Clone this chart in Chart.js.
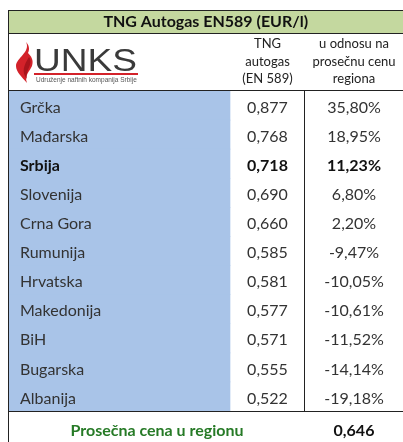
<!DOCTYPE html>
<html>
<head>
<meta charset="utf-8">
<script src="https://cdn.jsdelivr.net/npm/chart.js@4/dist/chart.umd.min.js"></script>
<style>
  html, body { margin: 0; padding: 0; background: #ffffff; }
  #wrap { position: relative; width: 403px; height: 442px; }
</style>
</head>
<body>
<div id="wrap"><canvas id="tbl"></canvas></div>
<script>
// TNG Autogas price table - drawn on a Chart.js horizontal bar chart
var title = 'TNG Autogas EN589 (EUR/l)';
var priceHeader = ['TNG', 'autogas', '(EN 589)'];
var diffHeader = ['u odnosu na', 'prosečnu cenu', 'regiona'];
var countries = ['Grčka', 'Mađarska', 'Srbija', 'Slovenija', 'Crna Gora', 'Rumunija',
                 'Hrvatska', 'Makedonija', 'BiH', 'Bugarska', 'Albanija'];
var prices = [0.877, 0.768, 0.718, 0.690, 0.660, 0.585, 0.581, 0.577, 0.571, 0.555, 0.522];
var diffs = [35.80, 18.95, 11.23, 6.80, 2.20, -9.47, -10.05, -10.61, -11.52, -14.14, -19.18];
var averageLabel = 'Prosečna cena u regionu';
var averagePrice = 0.646;
var highlighted = 'Srbija';

// layout (x scale runs in table units, 0 = left border)
var TABLE_W = 394;
var NAME_END = 221;
var PRICE_END = 296;
var FONT = 'Lato, "Open Sans", sans-serif';

function fmt(v, d) { return v.toFixed(d).replace('.', ','); }

var tablePlugin = {
    id: 'tableText',
    beforeDraw: function(chart) {
        var ctx = chart.ctx;
        var x = chart.scales.x;
        var left = x.getPixelForValue(0);
        var right = x.getPixelForValue(TABLE_W);
        ctx.save();
        // title row
        ctx.fillStyle = '#c4d89f';
        ctx.fillRect(left, 10, right - left, 23);
        ctx.restore();
    },
    afterDatasetsDraw: function(chart) {
        var ctx = chart.ctx;
        var x = chart.scales.x, y = chart.scales.y;
        var area = chart.chartArea;
        var left = Math.round(x.getPixelForValue(0)) - 0.5;
        var right = x.getPixelForValue(TABLE_W);
        var priceMid = x.getPixelForValue((NAME_END + PRICE_END) / 2);
        var diffMid = x.getPixelForValue((PRICE_END + TABLE_W) / 2);
        var sep = Math.round(x.getPixelForValue(PRICE_END)) - 0.5;
        ctx.save();

        // borders
        ctx.strokeStyle = '#222222';
        ctx.lineWidth = 1;
        ctx.beginPath();
        ctx.moveTo(left, 10.5); ctx.lineTo(right, 10.5);
        ctx.moveTo(left, 33.5); ctx.lineTo(right, 33.5);
        ctx.moveTo(left, Math.round(area.top) - 0.5); ctx.lineTo(right, Math.round(area.top) - 0.5);
        ctx.moveTo(left, Math.round(area.bottom) + 0.5); ctx.lineTo(right, Math.round(area.bottom) + 0.5);
        ctx.moveTo(left, 10); ctx.lineTo(left, chart.height);
        ctx.moveTo(sep, area.top); ctx.lineTo(sep, area.bottom);
        ctx.stroke();

        // title
        ctx.fillStyle = '#111111';
        ctx.textAlign = 'center';
        ctx.textBaseline = 'middle';
        ctx.font = 'bold 16px ' + FONT;
        ctx.fillText(title, (left + right) / 2, 22);

        // column headers
        ctx.font = '13px ' + FONT;
        ctx.fillStyle = '#222222';
        for (var h = 0; h < 3; h++) {
            ctx.fillText(priceHeader[h], priceMid, 44 + h * 17.5);
            ctx.fillText(diffHeader[h], diffMid, 44 + h * 17.5);
        }

        // rows
        for (var i = 0; i < countries.length; i++) {
            var cy = y.getPixelForValue(i) + 2;
            var bold = countries[i] === highlighted;
            ctx.font = (bold ? 'bold ' : '') + '16px ' + FONT;
            ctx.fillStyle = bold ? '#111111' : '#333333';
            ctx.textAlign = 'left';
            ctx.fillText(countries[i], x.getPixelForValue(11), cy);
            ctx.textAlign = 'center';
            ctx.fillText(fmt(prices[i], 3), priceMid, cy);
            ctx.fillText(fmt(diffs[i], 2) + '%', diffMid, cy);
        }

        // footer
        var fy = (area.bottom + chart.height) / 2 + 4;
        ctx.font = 'bold 16px ' + FONT;
        ctx.fillStyle = '#267a26';
        ctx.fillText(averageLabel, x.getPixelForValue(148), fy);
        ctx.fillStyle = '#111111';
        ctx.fillText(fmt(averagePrice, 3), diffMid, fy);

        ctx.restore();
        drawLogo(ctx);
    }
};

function drawLogo(ctx) {
    ctx.save();
    // flame
    ctx.fillStyle = '#d3222a';
    ctx.beginPath();
    ctx.moveTo(26, 42);
    ctx.bezierCurveTo(31, 52, 16, 58, 16, 66);
    ctx.bezierCurveTo(16, 72, 22, 77, 27, 83);
    ctx.bezierCurveTo(24, 75, 30, 71, 32, 66);
    ctx.bezierCurveTo(34, 60, 31, 56, 28, 53);
    ctx.bezierCurveTo(30, 49, 29, 45, 26, 42);
    ctx.fill();
    ctx.fillStyle = '#a8141c';
    ctx.beginPath();
    ctx.moveTo(29, 57);
    ctx.bezierCurveTo(34, 64, 25, 70, 27, 79);
    ctx.bezierCurveTo(21, 72, 24, 65, 29, 57);
    ctx.fill();
    ctx.restore();

    // letters
    ctx.save();
    ctx.fillStyle = '#3a3a3a';
    ctx.textAlign = 'left';
    ctx.textBaseline = 'alphabetic';
    ctx.font = '32px "Liberation Sans", Arial, sans-serif';
    var w = ctx.measureText('UNKS').width;
    ctx.translate(34, 71);
    ctx.scale(103 / w, 1);
    ctx.fillText('UNKS', 0, 0);
    ctx.restore();

    ctx.save();
    ctx.fillStyle = '#d3222a';
    ctx.fillRect(34, 73, 104, 2);
    ctx.fillStyle = '#555555';
    ctx.textAlign = 'left';
    ctx.textBaseline = 'middle';
    ctx.font = '6.5px "Liberation Sans", Arial, sans-serif';
    ctx.fillText('Udruženje naftnih kompanija Srbije', 36, 80);
    ctx.restore();
}

var ctx = document.getElementById('tbl').getContext('2d');
new Chart(ctx, {
    type: 'bar',
    data: {
        labels: countries,
        datasets: [{
            label: 'Država',
            data: countries.map(function() { return [0, NAME_END]; }),
            backgroundColor: '#a9c4e8',
            borderWidth: 0,
            barPercentage: 1,
            categoryPercentage: 1
        }]
    },
    options: {
        indexAxis: 'y',
        responsive: true,
        maintainAspectRatio: false,
        animation: false,
        layout: { padding: { top: 91, bottom: 31, left: 9, right: 0 } },
        scales: {
            x: { type: 'linear', min: 0, max: TABLE_W, display: false },
            y: { type: 'category', display: false, offset: true }
        },
        plugins: {
            legend: { display: false },
            tooltip: { enabled: false },
            title: { display: false }
        }
    },
    plugins: [tablePlugin]
});
</script>
</body>
</html>
